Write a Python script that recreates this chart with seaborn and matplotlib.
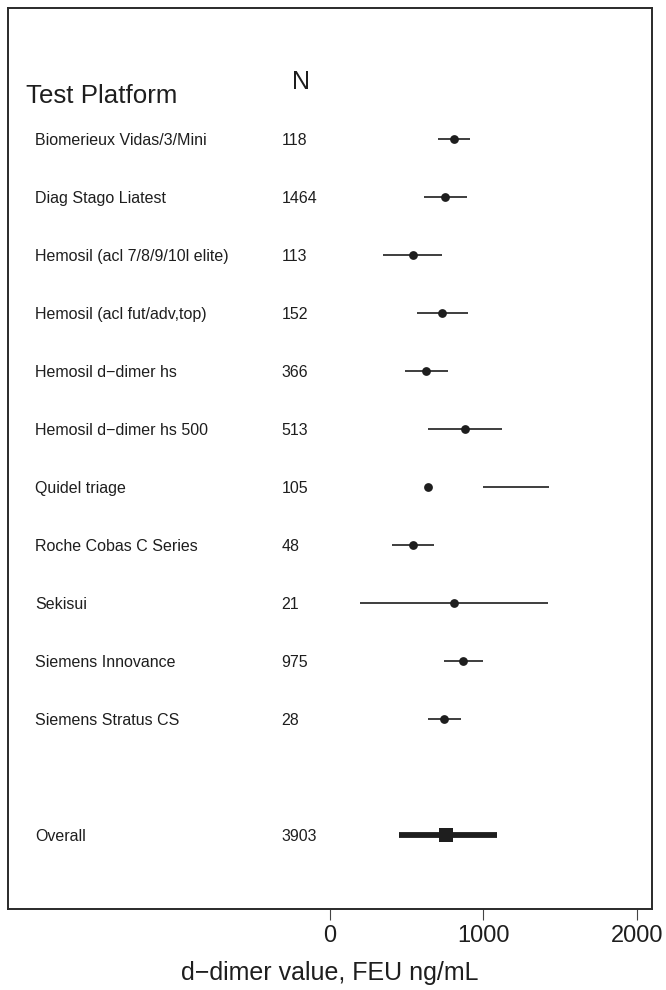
import matplotlib
matplotlib.use("Agg")
import matplotlib.pyplot as plt
import seaborn as sns
import pandas as pd

# DATA

platforms = [
    "Biomerieux Vidas/3/Mini",
    "Diag Stago Liatest",
    "Hemosil (acl 7/8/9/10l elite)",
    "Hemosil (acl fut/adv,top)",
    "Hemosil d\u2212dimer hs",
    "Hemosil d\u2212dimer hs 500",
    "Quidel triage",
    "Roche Cobas C Series",
    "Sekisui",
    "Siemens Innovance",
    "Siemens Stratus CS",
]
n_values = [118, 1464, 113, 152, 366, 513, 105, 48, 21, 975, 28]
estimates = [809, 750, 539, 731, 628, 878, 637, 544, 807, 870, 744]
ci_low = [705, 613, 348, 565, 487, 637, 998, 407, 196, 746, 637]
ci_high = [913, 893, 731, 898, 772, 1122, 1426, 681, 1420, 996, 853]

overall_label = "Overall"
overall_n = 3903
overall_est = 759
overall_low = 448
overall_high = 1089

df = pd.DataFrame({
    "platform": platforms,
    "n": n_values,
    "est": estimates,
    "low": ci_low,
    "high": ci_high,
})
df["row"] = range(len(df))
overall_row = len(df) + 1

# PLOT

sns.set_style("white")
plt.rcParams['font.family'] = ['Liberation Sans', 'DejaVu Sans']

fig = plt.figure(figsize=(6.66, 9.90), dpi=100)
ax = fig.add_axes([0.012, 0.082, 0.967, 0.910])

ink = "#1e1e1e"

ax.hlines(df["row"], df["low"], df["high"], color=ink, lw=1.2, zorder=2)
sns.scatterplot(x="est", y="row", data=df, ax=ax, color=ink, s=40,
                edgecolor=ink, linewidth=0, zorder=3)

ax.hlines(overall_row, overall_low, overall_high, color=ink, lw=4.2, zorder=2)
sns.scatterplot(x=[overall_est], y=[overall_row], ax=ax, color=ink,
                marker="s", s=95, edgecolor=ink, linewidth=0, zorder=3)

# table text
for _, r in df.iterrows():
    ax.text(-1925, r["row"], r["platform"], va="center_baseline", ha="left",
            fontsize=11.5, color=ink)
    ax.text(-315, r["row"], str(r["n"]), va="center_baseline", ha="left",
            fontsize=11.5, color=ink)
ax.text(-1925, overall_row, overall_label, va="center_baseline", ha="left",
        fontsize=11.5, color=ink)
ax.text(-315, overall_row, str(overall_n), va="center_baseline", ha="left",
        fontsize=11.5, color=ink)

ax.text(-1980, -0.79, "Test Platform", va="center_baseline", ha="left",
        fontsize=18.6, color=ink)
ax.text(-245, -1.02, "N", va="center_baseline", ha="left", fontsize=18,
        color=ink)

ax.set_xlim(-2100, 2100)
ax.set_ylim(13.28, -2.26)
ax.set_yticks([])
ax.set_xticks([0, 1000, 2000])
ax.tick_params(axis="x", bottom=True, direction="out", length=8, width=0.8,
               color="#444444", labelsize=17, labelcolor=ink, pad=4)
ax.set_xlabel("d\u2212dimer value, FEU ng/mL", fontsize=18, color=ink,
              labelpad=10)
ax.set_ylabel("")

for side in ["top", "bottom", "left", "right"]:
    ax.spines[side].set_visible(True)
    ax.spines[side].set_color("#2a2a2a")
    ax.spines[side].set_linewidth(1.4)

fig.savefig("out.png", dpi=100)
